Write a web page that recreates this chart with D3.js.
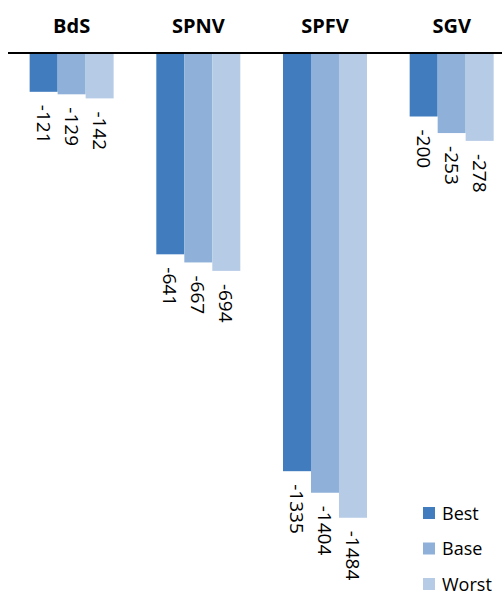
<!DOCTYPE html>
<html>
<head>
<meta charset="utf-8">
<script src="https://cdn.jsdelivr.net/npm/d3@7"></script>
<style>
  body { margin: 0; background: #fff; }
  text { font-family: "Open Sans", "Noto Sans", sans-serif; fill: #000; }
</style>
</head>
<body>
<svg id="chart" width="502" height="597"></svg>
<script>
const categories = ['BdS', 'SPNV', 'SPFV', 'SGV'];
const seriesNames = ['Best', 'Base', 'Worst'];
const best = [-121, -641, -1335, -200];
const base = [-129, -667, -1404, -253];
const worst = [-142, -694, -1484, -278];

const colors = ['#417cbf', '#8fb1d9', '#b5cbe6'];

// rows for each group
const rows = categories.map((c, i) => ({ cat: c, values: [best[i], base[i], worst[i]] }));

const svg = d3.select('#chart');

const x = d3.scaleBand()
  .domain(categories)
  .range([8.3, 515])
  .paddingInner(0.337)
  .paddingOuter(0.1685);

const xs = d3.scaleBand()
  .domain(seriesNames)
  .range([0, x.bandwidth()]);

const y = d3.scaleLinear()
  .domain([0, -1600])
  .range([54, 54 + 1600 * 0.3125]);

const groups = svg.append('g')
  .selectAll('g')
  .data(rows)
  .enter()
  .append('g')
  .attr('transform', d => 'translate(' + x(d.cat) + ',0)');

groups.selectAll('rect')
  .data(d => d.values.map((v, j) => ({ name: seriesNames[j], v: v, j: j })))
  .enter()
  .append('rect')
  .attr('x', d => xs(d.name))
  .attr('y', y(0))
  .attr('width', xs.bandwidth())
  .attr('height', d => y(d.v) - y(0))
  .attr('fill', d => colors[d.j]);

// value labels, rotated, under the end of each bar
groups.selectAll('text.val')
  .data(d => d.values.map((v, j) => ({ name: seriesNames[j], v: v })))
  .enter()
  .append('text')
  .attr('class', 'val')
  .attr('transform', d => 'translate(' + (xs(d.name) + xs.bandwidth() / 2) + ',' + (y(d.v) + 13) + ') rotate(90)')
  .attr('dominant-baseline', 'central')
  .style('font-size', '19px')
  .text(d => d.v);

// category names on top
svg.append('g')
  .selectAll('text')
  .data(categories)
  .enter()
  .append('text')
  .attr('x', d => x(d) + x.bandwidth() / 2)
  .attr('y', 33)
  .attr('text-anchor', 'middle')
  .style('font-size', '20px')
  .style('font-weight', 'bold')
  .text(d => d);

// zero line
svg.append('line')
  .attr('x1', 8)
  .attr('x2', 502)
  .attr('y1', y(0) - 1)
  .attr('y2', y(0) - 1)
  .attr('stroke', '#000')
  .attr('stroke-width', 2);

// legend
const legend = svg.append('g')
  .selectAll('g')
  .data(seriesNames)
  .enter()
  .append('g')
  .attr('transform', (d, i) => 'translate(423,' + (507 + i * 35.5) + ')');

legend.append('rect')
  .attr('width', 12)
  .attr('height', 12)
  .attr('fill', (d, i) => colors[i]);

legend.append('text')
  .attr('x', 19)
  .attr('y', 12.5)
  .style('font-size', '18px')
  .text(d => d);
</script>
</body>
</html>
